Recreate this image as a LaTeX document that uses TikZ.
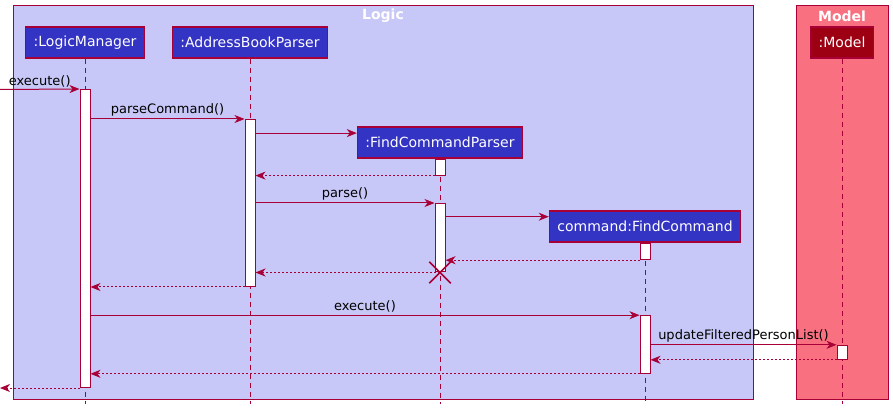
\documentclass[tikz,border=0pt]{standalone}
\usepackage{fontspec}
\setmainfont{DejaVu Sans}
\usetikzlibrary{arrows.meta,calc,positioning,shapes.misc}
\definecolor{my_border}{RGB}{168,0,54}
\definecolor{my_logic}{RGB}{200,200,248}
\definecolor{my_blue}{RGB}{51,51,196}
\definecolor{my_model}{RGB}{249,113,129}
\definecolor{my_dark}{RGB}{157,0,18}
\tikzset{
  part_box/.style = {rectangle, draw=my_border, line width=1.2pt, text=white, minimum height=31pt,
  inner xsep=8pt, font=\fontsize{14}{16}\selectfont},
  part_l/.style = {part_box, fill=my_blue},
  part_m/.style = {part_box, fill=my_dark},
  act_box/.style = {rectangle, draw=my_border, fill=white, line width=1pt, minimum width=10pt, inner sep=0pt},
  grp_box/.style = {rectangle, draw=my_border, line width=1pt, inner sep=0pt}
}

\begin{document}
\begin{tikzpicture}[x=1pt,y=-1pt,>={Stealth[length=10pt,width=8pt,inset=3pt]},
	        msg/.style={->, my_border, line width=1pt},
	        ret/.style={msg, dash pattern=on 2pt off 2pt},
	        life/.style={my_border, line width=1pt, dash pattern=on 5pt off 4pt},
	        lbl/.style={above, inner sep=2pt, text=black, font=\fontsize{13}{15}\selectfont},
	        title/.style={text=white, font=\fontsize{14}{16}\selectfont\bfseries}]
	        \useasboundingbox (0,0) rectangle (893,411);
	        \node [grp_box, fill=my_logic, minimum width=740pt, minimum height=393pt] (logic) at (383,202.5) {};
	        \node [grp_box, fill=my_model, minimum width=92pt, minimum height=393pt] (model) at (842,202.5) {};
	        \node [title] (logic_t) at ([yshift=-10.5pt]logic.north) {Logic};
	        \node [title] (model_t) at ([yshift=-10.5pt]model.north) {Model};
	        \node [part_l] (lm) at (85,42.5) {:LogicManager};
	        \node [part_l] (abp) at (250,42.5) {:AddressBookParser};
	        \node [part_l] (fcp) at (440,142.5) {:FindCommandParser};
	        \node [part_l] (fc) at (645,226.5) {command:FindCommand};
	        \node [part_m] (mdl) at (842,42.5) {:Model};
	        \coordinate (in_pt) at (0,89.5);
	        \coordinate (bottom) at (0,404);
	        \draw [life] (lm.south) -- (lm.south |- bottom);
	        \draw [life] (abp.south) -- (abp.south |- bottom);
	        \draw [life] (fcp.south) -- (fcp.south |- bottom);
	        \draw [life] (fc.south) -- (fc.south |- bottom);
	        \draw [life] (mdl.south) -- (mdl.south |- bottom);
	        \node [act_box, minimum height=298pt] (lm_act) at (85,238.5) {};
	        \node [act_box, minimum height=167pt] (abp_act) at (250,203) {};
	        \node [act_box, minimum height=16pt, below=0pt of fcp] (fcp_act1) {};
	        \node [act_box, minimum height=68.5pt] (fcp_act2) at (440,237.75) {};
	        \node [act_box, minimum height=16.6pt, below=0pt of fc] (fc_act1) {};
	        \node [act_box, minimum height=57.6pt] (fc_act2) at (645,344.5) {};
	        \node [act_box, minimum height=14pt] (m_act) at (842,352.3) {};
	        \path ([yshift=-6.7pt]fcp.north west) coordinate (fcp_in);
	        \path ([yshift=-6.3pt]fc.north west) coordinate (fc_in);
	        \draw [msg] (in_pt) -- node [lbl] {execute()} (lm_act.north west);
	        \draw [msg] (lm_act.east |- abp_act.north) -- node [lbl] {parseCommand()} (abp_act.north west);
	        \draw [msg] (abp_act.east |- fcp_in) -- (fcp_in);
	        \draw [ret] (fcp_act1.south west) -- (abp_act.east |- fcp_act1.south);
	        \draw [msg] (abp_act.east |- fcp_act2.north) -- node [lbl] {parse()} (fcp_act2.north west);
	        \draw [msg] (fcp_act2.east |- fc_in) -- (fc_in);
	        \draw [ret] (fc_act1.south west) -- (fcp_act2.east |- fc_act1.south);
	        \draw [ret] (fcp_act2.south) -- (abp_act.east |- fcp_act2.south);
	        \node [cross out, draw=my_border, line width=1.5pt, minimum size=20pt, inner sep=0pt] (fcp_x) at (fcp_act2.south) {};
	        \draw [ret] (abp_act.south west) -- (lm_act.east |- abp_act.south);
	        \draw [msg] (lm_act.east |- fc_act2.north) -- node [lbl] {execute()} (fc_act2.north west);
	        \draw [msg] (fc_act2.east |- m_act.north) -- node [lbl] {updateFilteredPersonList()} (m_act.north west);
	        \draw [ret] (m_act.south west) -- (fc_act2.east |- m_act.south);
	        \draw [ret] (fc_act2.south west) -- (lm_act.east |- fc_act2.south);
	        \draw [ret] (lm_act.south west) -- (in_pt |- lm_act.south);
\end{tikzpicture}
\end{document}
